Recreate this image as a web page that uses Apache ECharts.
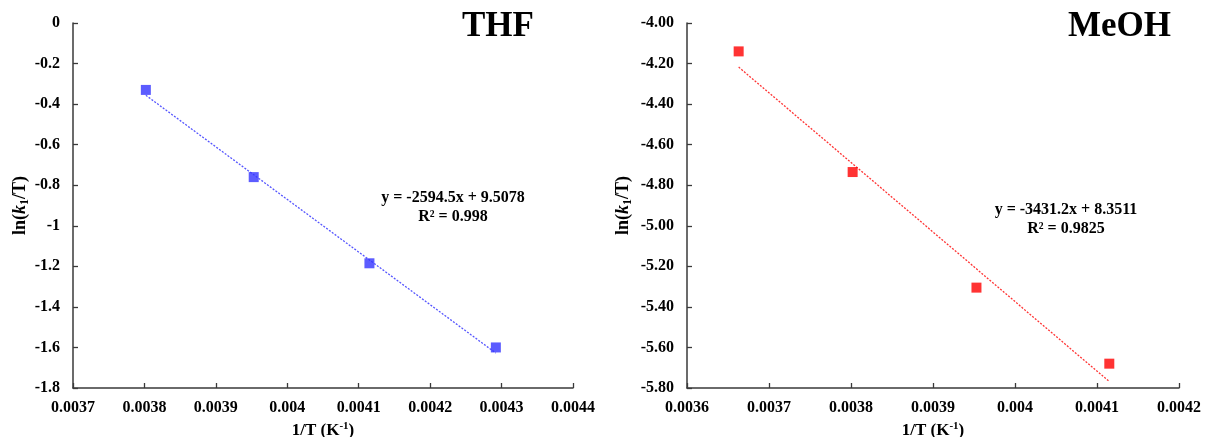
<!DOCTYPE html>
<html>
<head>
<meta charset="utf-8">
<script src="https://cdn.jsdelivr.net/npm/echarts@6/dist/echarts.min.js"></script>
<style>
  html, body { margin: 0; padding: 0; background: #fff; }
  #chart { width: 1205px; height: 437px; }
</style>
</head>
<body>
<div id="chart"></div>
<script>
// Arrhenius-type plots: ln(k1/T) against 1/T for two solvents
const thfInvT = [0.003802, 0.003953, 0.004115, 0.004292];
const thfLnK = [-0.330, -0.760, -1.185, -1.600];
const thfFit = { slope: -2594.5, intercept: 9.5078, r2: '0.998' };

const meohInvT = [0.003663, 0.003802, 0.003953, 0.004115];
const meohLnK = [-4.140, -4.735, -5.305, -5.680];
const meohFit = { slope: -3431.2, intercept: 8.3511, r2: '0.9825' };

const thfXTicks = { min: 0.0037, max: 0.0044, step: 0.0001 };
const thfYTicks = { min: -1.8, max: 0, step: 0.2 };
const meohXTicks = { min: 0.0036, max: 0.0042, step: 0.0001 };
const meohYTicks = { min: -5.8, max: -4.0, step: 0.2 };

const FONT = '"Liberation Serif", "Times New Roman", serif';

function pairs(xs, ys) { return xs.map((x, i) => [x, ys[i]]); }
// trend line between the first and last point, from the fitted equation
function fitLine(xs, fit) {
  const lo = Math.min(...xs), hi = Math.max(...xs);
  return [[lo, fit.slope * lo + fit.intercept], [hi, fit.slope * hi + fit.intercept]];
}
function eqText(fit) {
  const s = fit.slope < 0 ? '-' + Math.abs(fit.slope) : '' + fit.slope;
  return 'y = ' + s + 'x + ' + fit.intercept + '\nR² = ' + fit.r2;
}

const tickLabel = { fontFamily: FONT, fontWeight: 'bold', fontSize: 16, color: '#000' };
const axisLine = { show: true, onZero: false, lineStyle: { color: '#3a3a3a', width: 1.5 } };
const axisTick = { show: true, inside: true, length: 5, lineStyle: { color: '#3a3a3a', width: 1.3 } };

function xAxis(gi, t) {
  return {
    type: 'value', gridIndex: gi, min: t.min, max: t.max, interval: t.step,
    splitLine: { show: false },
    axisLine: axisLine,
    axisTick: axisTick,
    axisLabel: Object.assign({ margin: 12, showMaxLabel: true, showMinLabel: true,
      formatter: v => String(+v.toFixed(4)) }, tickLabel),
    name: '1/T (K{sup|-1})',
    nameLocation: 'middle', nameGap: 33,
    nameTextStyle: { fontFamily: FONT, fontWeight: 'bold', fontSize: 17, color: '#000',
      rich: { sup: { fontFamily: FONT, fontWeight: 'bold', fontSize: 11, color: '#000', verticalAlign: 'top', padding: [0, 0, 9, 0] } } }
  };
}
function yAxis(gi, t, dec, gap) {
  return {
    type: 'value', gridIndex: gi, min: t.min, max: t.max, interval: t.step,
    splitLine: { show: false },
    axisLine: axisLine,
    axisTick: axisTick,
    axisLabel: Object.assign({ margin: 13, showMaxLabel: true, showMinLabel: true,
      formatter: v => dec ? v.toFixed(dec) : String(+v.toFixed(1)) }, tickLabel),
    name: 'ln({i|k}{sub|1}/T)',
    nameLocation: 'middle', nameRotate: 90, nameGap: gap,
    nameTextStyle: { fontFamily: FONT, fontWeight: 'bold', fontSize: 18, color: '#000',
      rich: {
        i: { fontFamily: FONT, fontWeight: 'bold', fontStyle: 'italic', fontSize: 18, color: '#000' },
        sub: { fontFamily: FONT, fontWeight: 'bold', fontSize: 12, color: '#000', padding: [9, 0, 0, 0] }
      } }
  };
}

const chart = echarts.init(document.getElementById('chart'), null, { renderer: 'canvas' });
chart.setOption({
  animation: false,
  backgroundColor: '#fff',
  grid: [
    { left: 73, top: 23, width: 500, height: 365, containLabel: false, outerBoundsMode: 'none' },
    { left: 687, top: 23, width: 492, height: 365, containLabel: false, outerBoundsMode: 'none' }
  ],
  xAxis: [xAxis(0, thfXTicks), xAxis(1, meohXTicks)],
  yAxis: [yAxis(0, thfYTicks, 0, 41), yAxis(1, meohYTicks, 2, 53)],
  graphic: [
    { type: 'text', left: 462, top: 9, style: { text: 'THF', fontFamily: FONT, fontWeight: 'bold', fontSize: 35, fill: '#000' } },
    { type: 'text', left: 1068, top: 9, style: { text: 'MeOH', fontFamily: FONT, fontWeight: 'bold', fontSize: 35, fill: '#000' } },
    { type: 'text', x: 453, y: 207, style: { text: eqText(thfFit), align: 'center', verticalAlign: 'middle', lineHeight: 19, fontFamily: FONT, fontWeight: 'bold', fontSize: 16, fill: '#000' } },
    { type: 'text', x: 1066, y: 219, style: { text: eqText(meohFit), align: 'center', verticalAlign: 'middle', lineHeight: 19, fontFamily: FONT, fontWeight: 'bold', fontSize: 16, fill: '#000' } }
  ],
  series: [
    { type: 'line', xAxisIndex: 0, yAxisIndex: 0, data: fitLine(thfInvT, thfFit), symbol: 'none',
      lineStyle: { color: '#5555ff', width: 1.3, type: [2, 1.5] }, z: 2 },
    { type: 'scatter', xAxisIndex: 0, yAxisIndex: 0, data: pairs(thfInvT, thfLnK), symbol: 'rect', symbolSize: 10,
      itemStyle: { color: '#3333ff' }, z: 3 },
    { type: 'line', xAxisIndex: 1, yAxisIndex: 1, data: fitLine(meohInvT, meohFit), symbol: 'none',
      lineStyle: { color: '#ff3333', width: 1.3, type: [2, 1.5] }, z: 2 },
    { type: 'scatter', xAxisIndex: 1, yAxisIndex: 1, data: pairs(meohInvT, meohLnK), symbol: 'rect', symbolSize: 10,
      itemStyle: { color: '#ff0000' }, z: 3 }
  ]
});
</script>
</body>
</html>
